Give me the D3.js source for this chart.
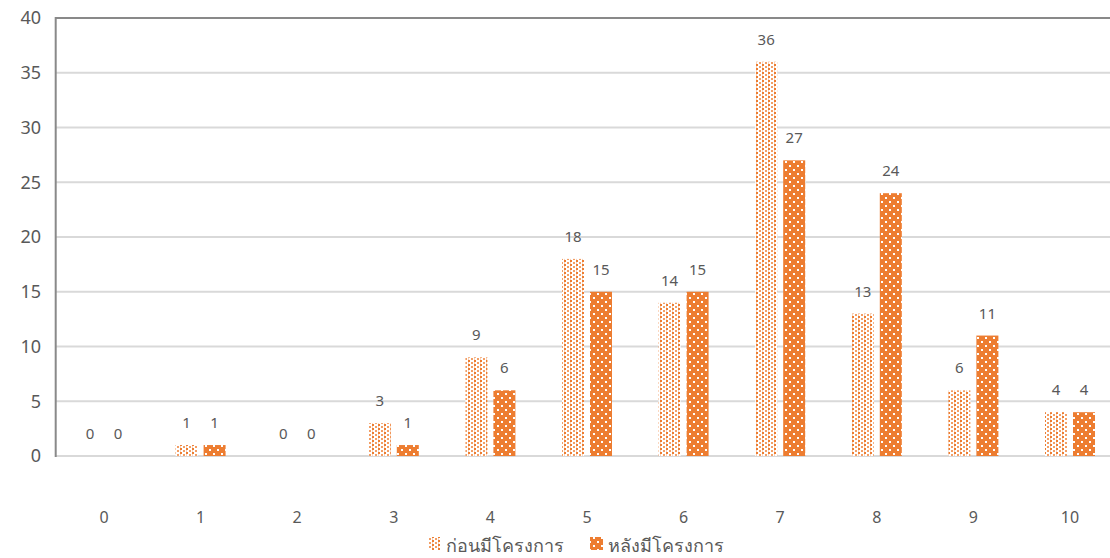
<!DOCTYPE html>
<html><head><meta charset="utf-8">
<script src="https://cdn.jsdelivr.net/npm/d3@7"></script>
<style>
body{margin:0;background:#fff;}
text{font-family:"Noto Sans","DejaVu Sans",sans-serif;fill:#595959;}
</style></head>
<body><svg id="c" width="1110" height="558"></svg>
<script>
const categories = ["0","1","2","3","4","5","6","7","8","9","10"];
const beforeValues = [0,1,0,3,9,18,14,36,13,6,4];
const afterValues = [0,1,0,1,6,15,15,27,24,11,4];
const seriesNames = ["ก่อนมีโครงการ","หลังมีโครงการ"];
const yTicks = [0,5,10,15,20,25,30,35,40];

(function(){
const svg = d3.select("#c");
const orange = "#ED7D31";
const defs = svg.append("defs");
const p1 = defs.append("pattern").attr("id","pBefore").attr("patternUnits","userSpaceOnUse").attr("width",6).attr("height",4);
p1.append("rect").attr("width",6).attr("height",4).attr("fill","#fff");
p1.append("rect").attr("x",0).attr("y",0).attr("width",2).attr("height",2).attr("fill",orange);
p1.append("rect").attr("x",3).attr("y",2).attr("width",2).attr("height",2).attr("fill",orange).attr("opacity",0.75);
p1.append("rect").attr("x",0).attr("y",2).attr("width",1).attr("height",2).attr("fill",orange).attr("opacity",0.35);
const p2 = defs.append("pattern").attr("id","pAfter").attr("patternUnits","userSpaceOnUse").attr("width",8).attr("height",8);
p2.append("rect").attr("width",8).attr("height",8).attr("fill",orange);
p2.append("rect").attr("x",1).attr("y",1).attr("width",2).attr("height",2).attr("fill","#fff");
p2.append("rect").attr("x",5).attr("y",5).attr("width",2).attr("height",2).attr("fill","#fff");

const mLeft = 55.7, mTop = 18, mBottom = 456;
const x = d3.scaleBand().domain(categories).range([mLeft, mLeft + 11*96.6]).padding(0);
const y = d3.scaleLinear().domain([0,40]).range([mBottom, mTop]);

svg.append("g").selectAll("line").data(yTicks.slice(1,-1)).join("line")
  .attr("x1",mLeft).attr("x2",1110).attr("y1",d=>y(d)).attr("y2",d=>y(d))
  .attr("stroke","#d9d9d9").attr("stroke-width",2);
svg.append("line").attr("x1",mLeft).attr("x2",1110).attr("y1",y(0)).attr("y2",y(0)).attr("stroke","#d9d9d9").attr("stroke-width",2);
svg.append("line").attr("x1",mLeft).attr("x2",1110).attr("y1",y(40)).attr("y2",y(40)).attr("stroke","#898989").attr("stroke-width",2);
svg.append("line").attr("x1",mLeft).attr("x2",mLeft).attr("y1",y(40)-1).attr("y2",y(0)+1).attr("stroke","#898989").attr("stroke-width",2);

svg.append("g").selectAll("text").data(yTicks).join("text")
  .attr("x",41).attr("y",d=>y(d)).attr("dy","0.35em").attr("text-anchor","end")
  .attr("font-size",18).text(d=>d);
svg.append("g").selectAll("text").data(categories).join("text")
  .attr("x",d=>x(d)+x.bandwidth()/2).attr("y",523).attr("text-anchor","middle")
  .attr("font-size",16).text(d=>d);

const bw = 22, gap = 3;
const data = categories.map((c,i)=>({c,b:beforeValues[i],a:afterValues[i]}));
const g = svg.append("g");
g.selectAll(".rb").data(data).join("rect").attr("class","rb")
  .attr("x",d=>x(d.c)+x.bandwidth()/2-gap-bw).attr("width",bw)
  .attr("y",d=>y(d.b)).attr("height",d=>y(0)-y(d.b)).attr("fill","url(#pBefore)");
g.selectAll(".ra").data(data).join("rect").attr("class","ra")
  .attr("x",d=>x(d.c)+x.bandwidth()/2+gap).attr("width",bw)
  .attr("y",d=>y(d.a)).attr("height",d=>y(0)-y(d.a)).attr("fill","url(#pAfter)");
g.selectAll(".lb").data(data).join("text").attr("class","lb")
  .attr("x",d=>x(d.c)+x.bandwidth()/2-gap-bw/2).attr("y",d=>y(d.b)-17)
  .attr("text-anchor","middle").attr("font-size",15).text(d=>d.b);
g.selectAll(".la").data(data).join("text").attr("class","la")
  .attr("x",d=>x(d.c)+x.bandwidth()/2+gap+bw/2).attr("y",d=>y(d.a)-17)
  .attr("text-anchor","middle").attr("font-size",15).text(d=>d.a);

const leg = svg.append("g");
const legX = [428, 590];
seriesNames.forEach((n,i)=>{
  leg.append("rect").attr("x",legX[i]).attr("y",537).attr("width",13).attr("height",13)
    .attr("fill", i===0?"url(#pBefore)":"url(#pAfter)");
  leg.append("text").attr("x",legX[i]+18).attr("y",552).attr("font-size",18).text(n);
});
})();
</script></body></html>
